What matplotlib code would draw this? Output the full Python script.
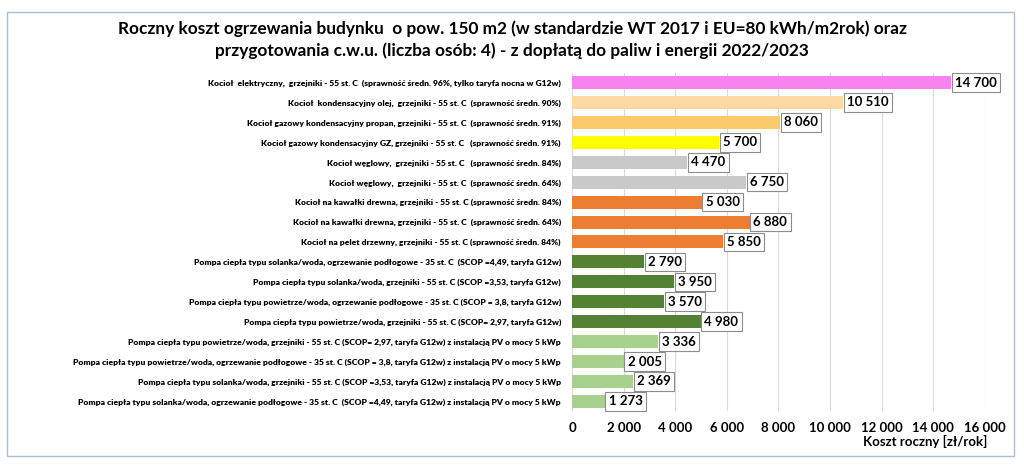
import matplotlib.pyplot as plt
from matplotlib.patches import Rectangle
from matplotlib.ticker import FuncFormatter

plt.rcParams['font.family'] = ['Lato', 'DejaVu Sans']

labels = [
    "Kocioł  elektryczny,  grzejniki - 55 st. C  (sprawność średn. 96%, tylko taryfa nocna w G12w)",
    "Kocioł  kondensacyjny olej,  grzejniki - 55 st. C  (sprawność średn. 90%)",
    "Kocioł gazowy kondensacyjny propan, grzejniki - 55 st. C  (sprawność średn. 91%)",
    "Kocioł gazowy kondensacyjny GZ, grzejniki - 55 st. C   (sprawność średn. 91%)",
    "Kocioł węglowy,  grzejniki - 55 st. C   (sprawność średn. 84%)",
    "Kocioł węglowy,  grzejniki - 55 st. C  (sprawność średn. 64%)",
    "Kocioł na kawałki drewna, grzejniki - 55 st. C (sprawność średn. 84%)",
    "Kocioł na kawałki drewna, grzejniki - 55 st. C  (sprawność średn. 64%)",
    "Kocioł na pelet drzewny, grzejniki - 55 st. C (sprawność średn. 84%)",
    "Pompa ciepła typu solanka/woda, ogrzewanie podłogowe - 35 st. C  (SCOP =4,49, taryfa G12w)",
    "Pompa ciepła typu solanka/woda, grzejniki - 55 st. C (SCOP =3,53, taryfa G12w)",
    "Pompa ciepła typu powietrze/woda, ogrzewanie podłogowe - 35 st. C (SCOP = 3,8, taryfa G12w)",
    "Pompa ciepła typu powietrze/woda, grzejniki - 55 st. C (SCOP= 2,97, taryfa G12w)",
    "Pompa ciepła typu powietrze/woda, grzejniki - 55 st. C (SCOP= 2,97, taryfa G12w) z instalacją PV o mocy 5 kWp",
    "Pompa ciepła typu powietrze/woda, ogrzewanie podłogowe - 35 st. C (SCOP = 3,8, taryfa G12w) z instalacją PV o mocy 5 kWp",
    "Pompa ciepła typu solanka/woda, grzejniki - 55 st. C (SCOP =3,53, taryfa G12w) z instalacją PV o mocy 5 kWp",
    "Pompa ciepła typu solanka/woda, ogrzewanie podłogowe - 35 st. C  (SCOP =4,49, taryfa G12w) z instalacją PV o mocy 5 kWp",
]
values = [14700, 10510, 8060, 5700, 4470, 6750, 5030, 6880, 5850,
          2790, 3950, 3570, 4980, 3336, 2005, 2369, 1273]
colors = ["#F882F0", "#FCD9A3", "#F9CB6C", "#FFFF00", "#C9C9C9", "#C9C9C9",
          "#ED7D31", "#ED7D31", "#ED7D31",
          "#548235", "#548235", "#548235", "#548235",
          "#A9D18E", "#A9D18E", "#A9D18E", "#A9D18E"]

title = ("Roczny koszt ogrzewania budynku  o pow. 150 m2 (w standardzie WT 2017 i EU=80 kWh/m2rok) oraz\n"
         "przygotowania c.w.u. (liczba osób: 4) - z dopłatą do paliw i energii 2022/2023")


def fmt(v):
    return f"{int(v):,}".replace(",", " ")


fig = plt.figure(figsize=(10.24, 4.65), dpi=100)
fig.patches.append(Rectangle((0.007, 0.02), 0.983, 0.955, transform=fig.transFigure,
                             fill=False, edgecolor="#A9BFD3", linewidth=1.0))
ax = fig.add_axes([0.5586, 0.1153, 0.4033, 0.7287])

n = len(values)
y = list(range(n))
ax.barh(y, values, height=0.65, color=colors, zorder=3)
ax.set_ylim(n - 0.5, -0.5)
ax.set_xlim(0, 16000)
ax.set_xticks(range(0, 16001, 2000))
ax.xaxis.set_major_formatter(FuncFormatter(lambda v, p: fmt(v)))
ax.set_yticks(y)
ax.set_yticklabels(labels, fontsize=6.1, fontweight="heavy")
ax.tick_params(axis="y", length=0, pad=8)
ax.tick_params(axis="x", length=0, labelsize=9.5, pad=8)
for lbl in ax.get_xticklabels():
    lbl.set_fontweight("bold")
ax.grid(axis="x", color="#D9D9D9", linewidth=0.8, zorder=0)
for s in ax.spines.values():
    s.set_visible(False)

for yi, v in zip(y, values):
    ax.text(v + 150, yi, fmt(v), va="center", ha="left", fontsize=9.5, fontweight="bold",
            zorder=4, bbox=dict(boxstyle="square,pad=0.25", facecolor="white",
                                edgecolor="#8C8C8C", linewidth=0.8))

fig.text(0.964, 0.036, "Koszt roczny [zł/rok]", ha="right", va="bottom",
         fontsize=9.5, fontweight="bold")
fig.suptitle(title, x=0.5, y=0.955, fontsize=12.4, fontweight="bold", linespacing=1.4)

fig.savefig("out.png", dpi=100)
